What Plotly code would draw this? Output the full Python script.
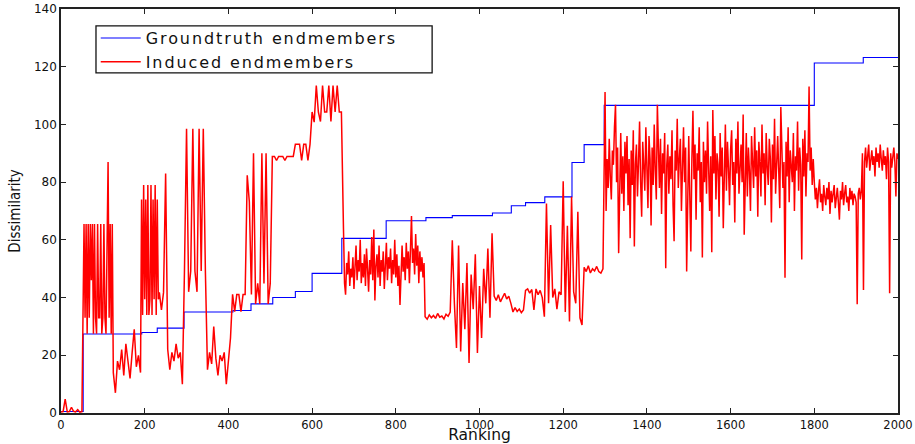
import plotly.graph_objects as go

# Groundtruth endmembers (step function): breakpoints and levels
gt_rank = [0, 53, 193, 230, 294, 411, 454, 506, 560, 600, 671, 777, 872, 935,
           1031, 1076, 1110, 1156, 1221, 1250, 1298, 1800, 1917, 2000]
gt_val = [0.5, 27.4, 27.9, 29.4, 35.0, 35.5, 37.8, 40.0, 42.1, 48.4, 60.5, 66.6,
          67.7, 68.4, 69.3, 71.8, 72.9, 74.9, 86.8, 93.0, 106.6, 121.3, 123.2, 123.2]

# Induced endmembers
# (first rank of each piece, rank spacing, values)
induced_a1 = [0.3, 0.5, 4.8, 0.4, 0.5, 2.0, 0.6, 0.4, 1.2, 0.3, 0.5]
induced_a2 = [27.5, 65.5, 33, 65.5, 27.5, 65.5, 33, 65.5, 46, 65.5,
              27.5, 65.5, 33, 27.5, 65.5, 33, 33, 65.5, 27.5, 33,
              65.5, 33, 27.5, 65.5, 87, 33, 65.5, 27.5, 65.5]
induced_a3 = [14, 7, 18, 15, 22, 13, 24, 17, 12, 21, 29, 16, 20, 14]
induced_a4 = [74, 34, 79, 39.4, 74, 34, 79, 34, 39.4, 79, 34, 74, 39.4, 79, 34, 74, 39.4]
induced_a5 = [
    41.8, 35.7, 41.8, 83,
    22, 15, 21, 18, 24, 19, 21, 10,
    49.2, 98.5, 42, 49.2, 98.5, 49.2, 42, 98.5, 49.2, 98.5, 49.2,
    15, 21, 17, 30, 19, 13, 20, 18, 21, 10, 17, 26,
    41.1, 35.1, 41.1, 41.1, 35.1, 41.1, 41.1, 82.4, 73.2, 41.1,
    90, 37.8, 44.9, 37.8, 90, 44.9, 90, 37.8,
    44.9, 88.9,
    88.9, 87.5, 88.9, 88.9, 88.9, 87.5, 88.9, 88.9, 88.9, 88.9,
    93.1, 93.1, 93.1, 87.5, 93.1, 93.1, 87.5, 93.1,
    104.3, 100.8, 113.5, 104.3, 101, 113.5, 104.3, 104.3, 113.5, 101, 113.5, 104.3, 113.5, 104.3,
    104.3,
]
induced_b = [
    63.6, 45, 41, 52, 48, 56, 44, 50, 47, 54,
    43, 51, 58, 46, 53, 49, 60, 45, 52, 47,
    55, 44, 57, 50, 42, 53, 48, 61, 46, 63.6,
    39, 51, 55, 47, 58, 44, 53, 49, 56, 43,
    52, 59, 46, 54, 50, 57, 45, 53, 48, 60,
    47, 55, 44, 51, 37.4, 53, 58, 49, 54, 46,
    59, 50, 56, 45, 61, 68.3, 52, 57, 48, 62,
    51, 58, 45, 56, 49, 54, 47, 52,
]
induced_c = [
    33.4, 32.5, 34, 33, 33.8, 32.8, 34.5, 33.2, 33.6, 32.6, 34.2, 33.5, 35,
    59.9, 38, 22.5, 58, 21.3, 45, 29, 52, 17.3, 48, 36, 55, 20.8,
    44, 26, 50, 38, 57, 33, 62.3,
    40.5, 39, 41, 38.5, 40, 41.5, 39.5, 40.5, 38,
    35, 36.5, 35.2, 36, 34.8, 35.7,
    42.5, 43, 41.5, 42.8, 35.7, 43, 41, 42.5, 40, 33.4, 72.6, 38, 65.1, 40,
    43, 36, 42, 41, 80.3, 35, 64.9, 31.7, 74.9, 42, 38, 69.7, 33, 30.5,
    50.5, 49, 51, 48.5, 50, 49.2, 50.8, 49, 48.5, 50,
]
induced_d = [
    111.2, 70, 88, 78, 95, 82, 74, 91, 86, 99,
    106.8, 80, 92, 55.4, 84, 97, 76, 89, 70, 94,
    83, 96, 72, 88, 60.6, 91, 79, 98, 57.7, 86,
    93, 75, 87, 101, 80, 68, 94, 85, 77, 99,
    82, 71, 96, 88, 65, 92, 79, 100, 84, 74,
    106.8, 87, 78, 95, 69, 90, 83, 97, 50.2, 86,
    93, 76, 89, 81, 98, 72, 59.5, 91, 84, 102,
    78, 88, 95, 70, 86, 99, 80, 92, 49, 85,
    96, 75, 56, 88, 104.7, 81, 93, 67, 90, 84,
    99, 73, 87, 53.9, 94, 80, 91, 76, 101, 85,
    70, 89, 55.7, 105, 83, 96, 74, 90, 86, 68,
    97, 82, 92, 64, 88, 100, 77, 94, 85, 72,
    91, 98, 79, 87, 66, 95, 83, 101, 76, 89,
    93, 80, 103.4, 61.8, 88, 97, 75, 92, 84, 70,
    96, 86, 78, 99, 82, 91, 68, 94, 87, 75,
    100, 83, 90, 72, 97, 85, 79, 95, 88, 66,
    93, 81, 102, 76, 89, 96, 84, 71, 106, 90,
    78, 87, 46.9, 94, 82, 99, 73, 91, 86, 80,
    97, 70, 89, 84, 101, 77, 92, 86, 53.2, 95,
    82, 98, 75, 90, 87, 113.1, 84, 92, 79, 88,
]
induced_e = [
    80, 74, 78, 71, 77, 81, 73, 76, 70, 79,
    75, 72, 78, 74, 80, 69, 77, 73, 76, 79,
    71, 75, 78, 73, 67, 77, 74, 80, 72, 76,
    79, 73, 75, 70, 78, 74, 77, 72, 76, 75,
    73, 37.7, 76, 78, 74, 77,
    90, 42.6, 87, 92, 85, 89, 93, 84, 88, 91,
    86, 89, 82, 92, 87, 90, 85, 93, 88, 84,
    91, 86, 89, 81, 92, 87, 41.5, 90, 85, 88,
    92, 87, 75, 90, 88,
]
induced_pieces = [
    (0, 5, induced_a1),
    (52.5, 2.5, induced_a2),
    (125, 5, induced_a3),
    (192.5, 2.5, induced_a4),
    (235, 5, induced_a5),
    (675, 2.5, induced_b),
    (870, 5, induced_c),
    (1300, 2.5, induced_d),
    (1800, 2.5, induced_e),
]

induced_rank, induced_val = [], []
for start, step, vals in induced_pieces:
    for i, v in enumerate(vals):
        induced_rank.append(start + i * step)
        induced_val.append(v)

x_ticks = [0, 200, 400, 600, 800, 1000, 1200, 1400, 1600, 1800, 2000]
y_ticks = [0, 20, 40, 60, 80, 100, 120, 140]

FONT = "DejaVu Sans"
LEG = "<span style='letter-spacing:1.9px'>%s</span>"

fig = go.Figure()
fig.add_trace(go.Scatter(x=gt_rank, y=gt_val, mode="lines", line_shape="hv",
                         name=LEG % "Groundtruth endmembers",
                         line=dict(color="#0000ff", width=1.1)))
fig.add_trace(go.Scatter(x=induced_rank, y=induced_val, mode="lines",
                         name=LEG % "Induced endmembers",
                         line=dict(color="#ff0000", width=1.5)))

# legend frame (white box with black border)
fig.add_shape(type="rect", xref="paper", yref="paper",
              x0=0.0418, x1=0.4434, y0=0.8417, y1=0.958,
              line=dict(color="#111", width=1.3), fillcolor="white", layer="above")

axis_common = dict(showline=True, linecolor="#222", linewidth=1.5, mirror="ticks",
                   ticks="inside", ticklen=5, tickcolor="#222", showgrid=False,
                   zeroline=False)

fig.update_layout(
    width=915, height=444,
    margin=dict(l=61, r=17, t=9, b=31),
    paper_bgcolor="white", plot_bgcolor="white",
    showlegend=True,
    legend=dict(x=0.0415, y=0.97, xanchor="left", yanchor="top",
                bgcolor="rgba(0,0,0,0)", borderwidth=0,
                font=dict(family=FONT, size=16, color="#111"),
                itemwidth=40, tracegroupgap=0),
    xaxis=dict(range=[0, 2000], tickvals=x_ticks,
               tickfont=dict(family=FONT, size=11.5, color="#111"),
               title=dict(text="Ranking", font=dict(family=FONT, size=15.5, color="#111"),
                          standoff=0),
               automargin=False, **axis_common),
    yaxis=dict(range=[0, 140], tickvals=y_ticks,
               tickfont=dict(family=FONT, size=12, color="#111"),
               title=dict(text="Dissimilarity",
                          font=dict(family="Liberation Sans Narrow, DejaVu Sans Condensed, sans-serif",
                                    size=15, color="#111"),
                          standoff=10),
               automargin=False, **axis_common),
)

fig.write_html("out.html", config={"displayModeBar": False},
               post_script="document.body.style.margin='0px';document.body.style.overflow='hidden';")
